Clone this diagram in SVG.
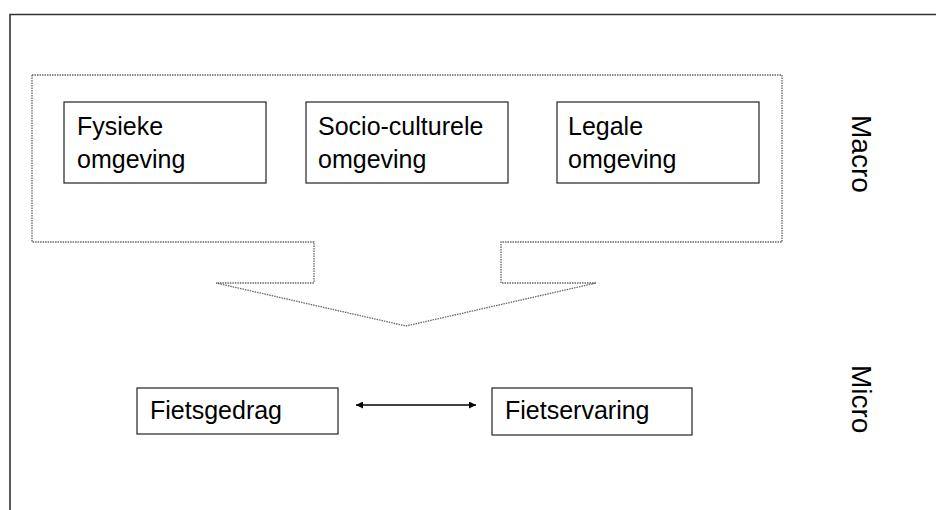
<svg xmlns="http://www.w3.org/2000/svg" width="936" height="510" viewBox="0 0 936 510">
  <style>
    .box { fill: #ffffff; stroke: #222222; stroke-width: 1.2; }
    .lbl { font-family: "Liberation Sans", Arial, sans-serif; font-size: 25px; fill: #000000; }
    .side { font-family: "Liberation Sans", Arial, sans-serif; font-size: 28px; fill: #000000; }
    .macro { fill: none; stroke: #666666; stroke-width: 1.3; stroke-dasharray: 1.5 1; }
    .conn { stroke: #000000; stroke-width: 1.3; fill: none; }
  </style>
  <defs>
    <marker id="ah" viewBox="0 0 10 10" refX="10" refY="5" markerWidth="8" markerHeight="7" markerUnits="userSpaceOnUse" orient="auto-start-reverse">
      <path d="M0,0 L10,5 L0,10 Z" fill="#000000"/>
    </marker>
  </defs>
  <rect width="936" height="510" fill="#ffffff"/>
  <!-- frame -->
  <path d="M10,510 L10,14.5 L936,14.5" fill="none" stroke="#333333" stroke-width="1.6"/>

  <!-- macro container with downward block arrow -->
  <g id="macro-container">
    <path class="macro" d="M32,75 L782,75 L782,242 L501,242 L501,283 L596,283 L406,326 L216,283 L314,283 L314,242 L32,242 Z"/>
  </g>

  <g id="fysieke">
    <rect class="box" x="64" y="102" width="202" height="81"/>
    <text class="lbl" x="77" y="135">Fysieke</text>
    <text class="lbl" x="77" y="168">omgeving</text>
  </g>
  <g id="socio">
    <rect class="box" x="306" y="102" width="202" height="81"/>
    <text class="lbl" x="318" y="135">Socio-culturele</text>
    <text class="lbl" x="318" y="168">omgeving</text>
  </g>
  <g id="legale">
    <rect class="box" x="557" y="102" width="202" height="81"/>
    <text class="lbl" x="568" y="135">Legale</text>
    <text class="lbl" x="568" y="168">omgeving</text>
  </g>

  <g id="fietsgedrag">
    <rect class="box" x="137" y="388" width="201" height="46"/>
    <text class="lbl" x="150" y="419">Fietsgedrag</text>
  </g>
  <g id="fietservaring">
    <rect class="box" x="492" y="388" width="200" height="47"/>
    <text class="lbl" x="505" y="419">Fietservaring</text>
  </g>

  <g id="connectors">
    <line class="conn" x1="356" y1="405" x2="476" y2="405" marker-start="url(#ah)" marker-end="url(#ah)"/>
  </g>

  <g id="labels">
    <text class="side" transform="translate(852,115) rotate(90)">Macro</text>
    <text class="side" transform="translate(852,365) rotate(90)">Micro</text>
  </g>
</svg>
